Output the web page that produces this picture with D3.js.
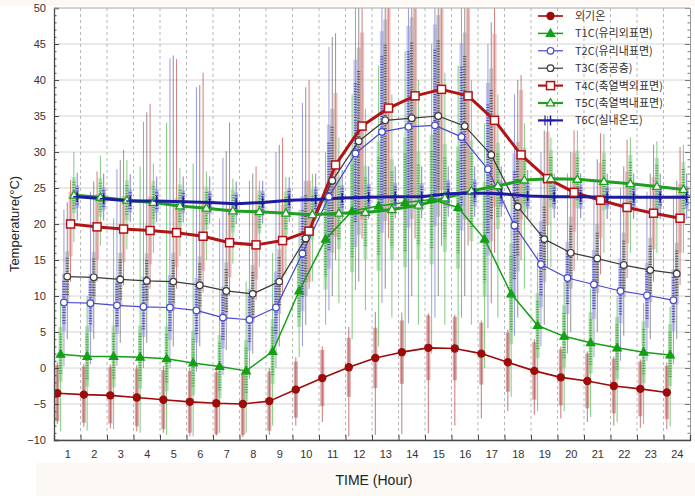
<!DOCTYPE html>
<html>
<head>
<meta charset="utf-8">
<script src="https://cdn.jsdelivr.net/npm/d3@7"></script>
<style>
body { margin: 0; background: #fff; }
svg { display: block; font-family: "Liberation Sans", Arial, sans-serif; }
</style>
</head>
<body>
<svg id="chart" width="695" height="496"></svg>
<script>
var hours = [1,2,3,4,5,6,7,8,9,10,11,12,13,14,15,16,17,18,19,20,21,22,23,24];
var yTicks = [-10,-5,0,5,10,15,20,25,30,35,40,45,50];
var names = ['외기온','T1C(유리외표면)','T2C(유리내표면)','T3C(중공층)','T4C(축열벽외표면)','T5C(축열벽내표면)','T6C(실내온도)'];

var outMean = [-3.5,-3.7,-3.8,-4.1,-4.4,-4.7,-4.9,-5.0,-4.6,-3.0,-1.4,0.1,1.4,2.2,2.8,2.7,2.0,0.8,-0.4,-1.3,-1.8,-2.5,-2.9,-3.4];
var outSd   = [3.9,3.9,3.9,4.0,4.1,4.3,4.3,4.3,4.1,3.9,3.9,4.1,4.2,4.4,4.5,4.4,4.3,4.1,4.0,3.9,3.8,3.8,3.8,3.7];
var outMin  = [-7.8,-8.2,-8.4,-8.8,-9.0,-9.5,-9.4,-9.6,-9.3,-8.0,-7.5,-9.5,-9.3,-9.2,-9.1,-8.0,-7.0,-6.0,-6.5,-7.0,-7.5,-8.0,-8.3,-8.5];
var outMax  = [0.8,0.6,0.5,0.4,0.3,0.0,-0.2,-0.4,0.0,1.5,3.0,5.7,7.8,7.7,7.6,7.4,6.6,5.3,4.0,3.0,2.3,1.6,1.2,0.8];

var t1Mean = [1.9,1.6,1.6,1.5,1.3,0.7,0.2,-0.4,2.3,10.7,17.9,21.8,22.5,23.0,23.4,22.3,17.9,10.3,5.9,4.4,3.5,2.8,2.2,1.8];
var t1Sd   = [3.8,4.2,4.3,4.4,4.5,4.5,4.4,4.3,4.5,5.0,7.0,8.5,9.0,9.0,9.0,8.5,8.0,7.0,4.5,4.3,4.3,4.3,4.3,4.3];
var t1Min  = [-8.8,-8.7,-8.5,-9.0,-9.3,-9.5,-9.0,-9.0,-8.0,1.5,6.0,4.0,3.0,2.0,2.0,3.0,0.0,-4.0,-6.0,-6.0,-6.8,-7.5,-7.8,-8.1];
var t1Max  = [9.0,10.0,20.8,28.0,34.1,28.4,20.8,12.0,16.0,22.0,30.0,38.0,42.0,44.0,45.0,42.0,34.0,24.0,16.0,12.0,11.0,10.0,9.0,8.5];

var t2Mean = [9.1,9.0,8.7,8.5,8.4,8.0,7.0,6.7,8.4,15.9,23.8,29.8,32.8,33.5,33.7,32.1,27.6,19.8,14.4,12.5,11.6,10.7,10.1,9.4];
var t2Sd   = [4.0,4.0,4.0,4.2,4.5,4.5,4.3,4.3,5.0,8.0,10.0,13.0,14.0,14.0,14.0,13.0,12.0,10.0,6.0,5.0,4.8,4.5,4.5,4.3];
var t2Min  = [0.2,0.5,0.3,0.0,0.0,-0.5,-1.0,-1.5,0.0,3.0,8.0,10.8,9.0,6.2,7.0,7.0,5.5,4.5,3.0,2.0,1.5,1.0,1.0,0.5];
var t2Max  = [22.0,24.5,27.6,34.2,43.0,39.0,29.2,26.0,30.0,36.8,44.6,55,55,55,55,55,45.0,38.0,30.0,27.0,26.0,25.0,24.5,24.0];

var t3Mean = [12.7,12.6,12.3,12.1,12.0,11.5,10.7,10.3,12.0,18.0,26.0,31.5,34.4,34.7,35.0,33.6,29.6,22.4,17.9,16.0,15.2,14.3,13.6,13.1];
var t3Sd   = [3.5,3.5,3.7,3.8,4.0,4.0,4.0,4.0,4.5,8.0,10.0,13.0,14.0,14.0,14.0,13.0,12.0,9.0,6.0,5.0,4.8,4.5,4.5,4.3];
var t3Min  = [4.0,4.0,3.5,3.5,3.0,3.0,2.5,2.0,3.0,6.0,10.0,12.0,11.0,10.0,10.0,10.0,9.0,7.0,6.0,5.0,5.0,4.5,4.0,4.0];
var t3Max  = [23.0,25.9,28.9,35.5,43.4,39.3,30.1,27.0,31.0,39.0,46.0,55,55,55,55,55,48.0,40.0,33.0,30.0,29.0,28.0,27.0,26.0];

var t4Mean = [20.0,19.6,19.3,19.1,18.8,18.3,17.4,17.1,17.7,19.0,28.2,33.6,36.1,37.8,38.7,37.8,34.4,29.6,26.3,24.4,23.3,22.3,21.5,20.8];
var t4Sd   = [4.5,4.5,4.6,4.7,4.8,4.8,4.8,4.8,5.0,7.0,10.0,13.0,14.0,14.0,14.0,13.0,12.0,9.0,6.5,5.5,5.2,5.0,5.0,4.8];
var t4Min  = [12.0,12.0,11.5,11.0,11.0,10.5,10.0,9.5,10.0,11.0,15.0,18.0,18.0,18.0,17.0,17.0,16.0,15.0,14.0,13.5,13.0,12.5,12.0,11.5];
var t4Max  = [26.1,27.3,30.3,36.7,42.9,41.0,34.1,28.0,32.0,40.0,46.5,55,55,55,55,55,50.0,40.7,35.0,33.0,32.6,31.7,31.0,30.7];

var t5Mean = [24.0,23.7,23.3,23.0,22.5,22.2,21.8,21.7,21.5,21.3,21.5,21.6,22.0,22.6,23.6,24.6,25.3,26.1,26.3,26.2,25.9,25.6,25.2,24.8];
var t5Sd   = [2.5,2.7,2.8,3.0,3.0,3.0,3.0,3.0,3.0,3.5,5.0,6.5,7.0,7.5,7.5,7.0,6.0,4.5,4.0,4.0,4.0,4.0,4.0,3.8];
var t5Min  = [17.5,17.0,16.5,16.0,15.5,15.0,14.5,14.0,13.0,12.0,9.0,8.0,7.0,6.0,6.0,6.0,7.0,11.0,14.0,15.0,16.0,16.0,16.0,16.0];
var t5Max  = [30.0,29.5,28.9,28.4,27.8,27.3,26.3,26.0,26.5,27.0,32.0,36.0,38.0,40.0,41.0,40.0,38.0,34.0,32.0,33.0,32.5,32.0,31.5,31.0];

var t6Mean = [23.8,23.5,23.2,23.2,23.1,23.0,22.8,23.0,23.3,23.4,23.6,23.7,23.8,23.8,24.2,24.3,24.2,23.9,23.8,23.8,23.7,23.7,23.7,23.7];
var t6Sd   = [1.6,1.6,1.6,1.6,1.6,1.6,1.6,1.6,1.7,1.8,1.8,1.9,1.9,1.9,1.9,1.9,1.8,1.8,1.7,1.7,1.6,1.6,1.6,1.6];
var t6Min  = [20.5,20.5,20.3,20.3,20.2,20.1,20.0,20.1,20.3,20.5,20.6,20.7,20.8,20.8,21.0,21.0,21.0,20.8,20.8,20.8,20.7,20.7,20.7,20.7];
var t6Max  = [27.1,27.0,26.9,26.6,26.6,26.6,25.9,26.0,26.5,27.0,27.5,28.0,28.0,28.0,28.0,28.0,28.0,27.5,27.0,27.0,27.0,27.0,27.0,27.0];

var series = [
    {name: names[0], mean: outMean, sd: outSd, min: outMin, max: outMax, off: -0.375, color: '#9e0b0b', bar: '#b85a5a', dot: null, lw: 1.6, marker: 'circleFilled'},
    {name: names[1], mean: t1Mean, sd: t1Sd, min: t1Min, max: t1Max, off: -0.25, color: '#14a014', bar: '#7cc87c', dot: '#2a9a2a', lw: 1.5, marker: 'triFilled'},
    {name: names[2], mean: t2Mean, sd: t2Sd, min: t2Min, max: t2Max, off: -0.125, color: '#4848d0', bar: '#9a9ae0', dot: '#1c1c9a', lw: 1.2, marker: 'circleOpen'},
    {name: names[3], mean: t3Mean, sd: t3Sd, min: t3Min, max: t3Max, off: 0, color: '#3a3a3a', bar: '#a0a0a0', dot: '#303030', lw: 1.2, marker: 'circleOpen'},
    {name: names[4], mean: t4Mean, sd: t4Sd, min: t4Min, max: t4Max, off: 0.125, color: '#b01414', bar: '#d89090', dot: null, lw: 3, marker: 'square'},
    {name: names[5], mean: t5Mean, sd: t5Sd, min: t5Min, max: t5Max, off: 0.25, color: '#1ea01e', bar: '#88cc88', dot: '#2a9a2a', lw: 3, marker: 'triOpen'},
    {name: names[6], mean: t6Mean, sd: t6Sd, min: t6Min, max: t6Max, off: 0.375, color: '#1c1ca0', bar: '#8a8ad8', dot: '#2a2ab0', lw: 3, marker: 'plus'}
];

var margins = {left: 54, top: 8, right: 5, bottom: 56};
var W = 695, H = 496;
var svg = d3.select('#chart');

var x = d3.scaleLinear().domain([0.5, 24.5]).range([margins.left, W - margins.right]);
var y = d3.scaleLinear().domain([-10, 50]).range([H - margins.bottom, margins.top]);
var x0 = margins.left, x1 = W - margins.right, y0 = H - margins.bottom, y1 = margins.top;

// faint cream band under the axis labels
svg.append('rect').attr('x', 36).attr('y', 463).attr('width', W - 36).attr('height', H - 463).attr('fill', '#fcf9f4');
svg.append('rect').attr('x', 0).attr('y', 0).attr('width', W).attr('height', 6).attr('fill', '#fcf9f4');
svg.append('rect').attr('x', x0).attr('y', y1).attr('width', x1 - x0).attr('height', y0 - y1).attr('fill', '#fff');

// grid
var grid = svg.append('g').attr('class', 'grid');
grid.selectAll('.hg').data(yTicks).enter().append('line')
    .attr('x1', x0).attr('x2', x1)
    .attr('y1', function(d) { return y(d); }).attr('y2', function(d) { return y(d); })
    .attr('stroke', '#d4d4d4').attr('stroke-width', 1);
var bounds = hours.slice(0, 23).map(function(h) { return h + 0.5; });
grid.selectAll('.vg').data(bounds).enter().append('line')
    .attr('x1', function(d) { return x(d); }).attr('x2', function(d) { return x(d); })
    .attr('y1', y1).attr('y2', y0)
    .attr('stroke', '#b8b8b8').attr('stroke-width', 1).attr('stroke-dasharray', '3,3');

svg.append('clipPath').attr('id', 'plotClip').append('rect')
    .attr('x', x0).attr('y', y1).attr('width', x1 - x0).attr('height', y0 - y1);
var plot = svg.append('g').attr('clip-path', 'url(#plotClip)');

// error bars: thin min-max whisker, pale +-sd bar, dotted core for some series
series.forEach(function(s) {
    var g = plot.append('g');
    hours.forEach(function(h, i) {
        var cx = x(h + s.off);
        g.append('line')
            .attr('x1', cx).attr('x2', cx)
            .attr('y1', y(s.max[i])).attr('y2', y(s.min[i]))
            .attr('stroke', s.color).attr('stroke-width', 1).attr('opacity', 0.55);
        g.append('rect')
            .attr('x', cx - 2).attr('width', 4)
            .attr('y', y(s.mean[i] + s.sd[i]))
            .attr('height', y(s.mean[i] - s.sd[i]) - y(s.mean[i] + s.sd[i]))
            .attr('fill', s.bar).attr('opacity', 0.55);
        if (s.dot) {
            g.append('line')
                .attr('x1', cx).attr('x2', cx)
                .attr('y1', y(s.mean[i] + s.sd[i] * 0.75)).attr('y2', y(s.mean[i] - s.sd[i] * 0.75))
                .attr('stroke', s.dot).attr('stroke-width', 3.5)
                .attr('stroke-dasharray', '1,1.6').attr('opacity', 0.65);
        }
    });
});

// lines
var line = d3.line()
    .x(function(d) { return d[0]; })
    .y(function(d) { return d[1]; });
series.forEach(function(s) {
    var pts = hours.map(function(h, i) { return [x(h + s.off), y(s.mean[i])]; });
    plot.append('path').attr('d', line(pts))
        .attr('fill', 'none').attr('stroke', s.color).attr('stroke-width', s.lw)
        .attr('stroke-linejoin', 'round');
});

function drawMarker(g, type, cx, cy, color) {
    if (type === 'circleFilled') {
        g.append('circle').attr('cx', cx).attr('cy', cy).attr('r', 4.2).attr('fill', color);
    } else if (type === 'circleOpen') {
        g.append('circle').attr('cx', cx).attr('cy', cy).attr('r', 3.3)
            .attr('fill', '#fff').attr('stroke', color).attr('stroke-width', 1.2);
    } else if (type === 'triFilled' || type === 'triOpen') {
        var p = d3.symbol().type(d3.symbolTriangle).size(30);
        g.append('path').attr('d', p()).attr('transform', 'translate(' + cx + ',' + (cy + 0.5) + ')')
            .attr('fill', type === 'triFilled' ? color : '#fff')
            .attr('stroke', color).attr('stroke-width', 1.3);
    } else if (type === 'square') {
        g.append('rect').attr('x', cx - 4).attr('y', cy - 4).attr('width', 8).attr('height', 8)
            .attr('fill', '#fff').attr('stroke', color).attr('stroke-width', 1.5);
    } else if (type === 'plus') {
        g.append('path').attr('d', 'M' + (cx - 4) + ',' + cy + 'H' + (cx + 4) + 'M' + cx + ',' + (cy - 5) + 'V' + (cy + 5))
            .attr('stroke', color).attr('stroke-width', 1.5).attr('fill', 'none');
    }
}

series.forEach(function(s) {
    var g = plot.append('g');
    hours.forEach(function(h, i) { drawMarker(g, s.marker, x(h + s.off), y(s.mean[i]), s.color); });
});

// axes
var axisColor = '#4a4a4a';
var yMinor = d3.range(-10, 51, 1);
svg.append('g').attr('transform', 'translate(' + x0 + ',0)')
    .call(d3.axisLeft(y).tickValues(yMinor).tickSize(-2.5).tickFormat(''))
    .call(function(g) { g.select('.domain').remove(); g.selectAll('line').attr('stroke', axisColor); });
svg.append('g').attr('transform', 'translate(' + x0 + ',0)')
    .call(d3.axisLeft(y).tickValues(yTicks).tickSize(-5).tickPadding(8))
    .call(function(g) {
        g.select('.domain').attr('stroke', axisColor).attr('stroke-width', 1.3);
        g.selectAll('line').attr('stroke', axisColor);
        g.selectAll('text').attr('fill', '#333').style('font-size', '11px');
    });
svg.append('g').attr('transform', 'translate(' + x1 + ',0)')
    .call(d3.axisRight(y).tickValues(yMinor).tickSize(-2.5).tickFormat(''))
    .call(function(g) { g.select('.domain').remove(); g.selectAll('line').attr('stroke', '#777'); });
svg.append('g').attr('transform', 'translate(' + x1 + ',0)')
    .call(d3.axisRight(y).tickValues(yTicks).tickSize(-5).tickFormat(''))
    .call(function(g) { g.select('.domain').attr('stroke', '#999'); g.selectAll('line').attr('stroke', '#777'); });
svg.append('line').attr('x1', x0).attr('x2', x1).attr('y1', y1).attr('y2', y1).attr('stroke', '#bbb');

svg.append('g').attr('transform', 'translate(0,' + y0 + ')')
    .call(d3.axisBottom(x).tickValues(bounds).tickSize(-5).tickFormat(''))
    .call(function(g) {
        g.select('.domain').attr('stroke', axisColor).attr('stroke-width', 1.3);
        g.selectAll('line').attr('stroke', axisColor);
    });
svg.append('g').attr('transform', 'translate(0,' + y0 + ')')
    .call(d3.axisBottom(x).tickValues(hours).tickSize(0).tickPadding(10).tickFormat(d3.format('d')))
    .call(function(g) {
        g.select('.domain').remove();
        g.selectAll('text').attr('fill', '#333').style('font-size', '11px');
    });

svg.append('text')
    .attr('x', (x0 + x1) / 2 + 2).attr('y', 485)
    .style('text-anchor', 'middle').style('font-size', '14px').attr('fill', '#222')
    .text('TIME (Hour)');
svg.append('text')
    .attr('transform', 'rotate(-90)')
    .attr('x', -(y0 + y1) / 2).attr('y', 19)
    .style('text-anchor', 'middle').style('font-size', '13px').attr('fill', '#222')
    .text('Temperature(°C)');

// legend
var legend = svg.append('g').attr('transform', 'translate(538,16)');
series.forEach(function(s, i) {
    var g = legend.append('g').attr('transform', 'translate(0,' + (i * 17.4) + ')');
    g.append('line').attr('x1', 0).attr('x2', 25).attr('y1', 0).attr('y2', 0)
        .attr('stroke', s.color).attr('stroke-width', Math.min(s.lw, 2.2));
    if (s.marker === 'plus') {
        g.append('line').attr('x1', 7).attr('x2', 7).attr('y1', -5).attr('y2', 5).attr('stroke', s.color).attr('stroke-width', 1.2);
    }
    drawMarker(g, s.marker, 12.5, 0, s.color);
    g.append('text').attr('x', 37).attr('y', 4)
        .style('font-family', '"Noto Sans CJK KR", "Liberation Sans", sans-serif')
        .style('font-size', '11px').attr('fill', '#333')
        .text(s.name);
});
</script>
</body>
</html>
